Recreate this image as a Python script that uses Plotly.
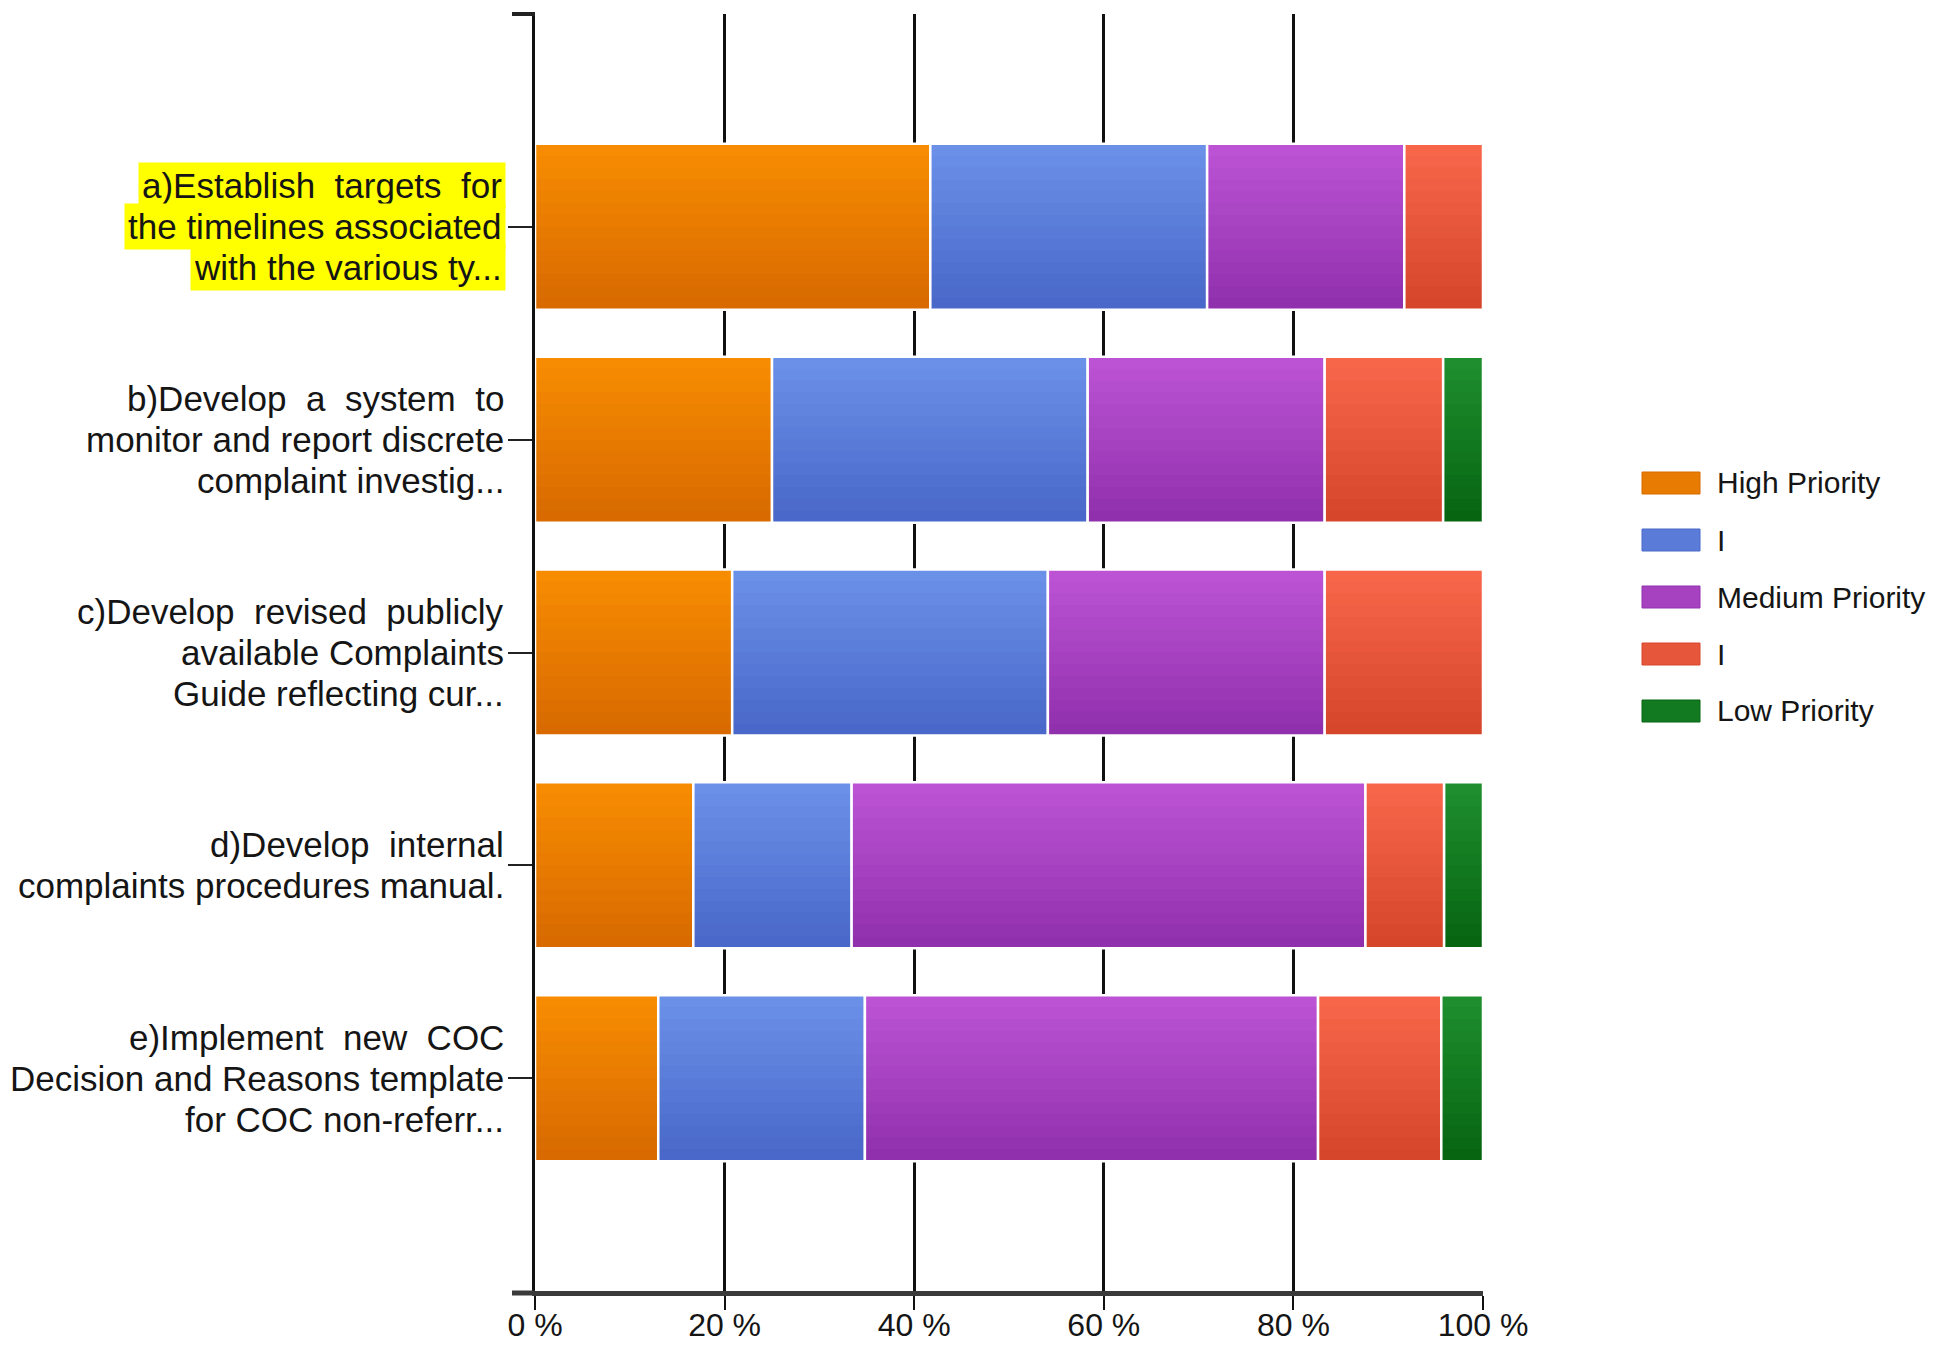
import numpy as np
import plotly.graph_objects as go

# ---- data -------------------------------------------------------------
categories = ["a", "b", "c", "d", "e"]

# wrapped, truncated category labels (one list of lines per category)
category_lines = [
    ["a)Establish\u00a0 targets\u00a0 for", "the timelines associated", "with the various ty..."],
    ["b)Develop\u00a0 a\u00a0 system\u00a0 to", "monitor and report discrete", "complaint investig..."],
    ["c)Develop\u00a0 revised\u00a0 publicly", "available Complaints", "Guide reflecting cur..."],
    ["d)Develop\u00a0 internal", "complaints procedures manual."],
    ["e)Implement\u00a0 new\u00a0 COC", "Decision and Reasons template", "for COC non-referr..."],
]
highlighted = ["a"]

series_names = ["High Priority", "I", "Medium Priority", "I", "Low Priority"]

# percentage of responses per category
high_priority = [41.7, 25.0, 20.8, 16.7, 13.0]
high_mid = [29.2, 33.3, 33.3, 16.7, 21.8]
medium_priority = [20.8, 25.0, 29.2, 54.2, 47.8]
medium_low = [8.3, 12.5, 16.7, 8.3, 13.0]
low_priority = [0.0, 4.2, 0.0, 4.1, 4.4]

series_values = [high_priority, high_mid, medium_priority, medium_low, low_priority]

tick_values = [0, 20, 40, 60, 80, 100]
tick_labels = ["0 %", "20 %", "40 %", "60 %", "80 %", "100 %"]

# ---- styling ----------------------------------------------------------
# (top colour, bottom colour) of each series' vertical gradient
series_colors = [
    ("#F78C02", "#D86A00"),
    ("#6B90E8", "#4968C9"),
    ("#BC53D4", "#9130AD"),
    ("#F8664A", "#D5462A"),
    ("#1E8E2E", "#076512"),
]

FONT = "Liberation Sans, Arial, sans-serif"
TEXT_COLOR = "#151515"
W, H = 1946, 1345
L, R, T, B = 535, 1483, 14, 1291   # plot area in pixels
BAR_W = 0.78
N_BANDS = 14
LINE_STEP = 41


def hex_to_rgb(h):
    h = h.lstrip("#")
    return np.array([int(h[i:i + 2], 16) for i in (0, 2, 4)], dtype=float)


def mix(c0, c1, t):
    c = hex_to_rgb(c0) * (1 - t) + hex_to_rgb(c1) * t
    return "rgb(%d,%d,%d)" % tuple(np.round(c).astype(int))


def px_x(x):
    return (x - L) / (R - L)


def px_y(y):
    return (B - y) / (B - T)


fig = go.Figure()

bases = np.zeros(len(categories))
band_w = BAR_W / N_BANDS
for name, vals, (c_top, c_bot) in zip(series_names, series_values, series_colors):
    vals = np.asarray(vals, dtype=float)
    shown = [v if v > 0 else None for v in vals]
    # gradient: each band runs from its start to the bar's bottom edge,
    # later (darker) bands painted over earlier ones, so no seams appear
    for k in range(N_BANDS):
        fig.add_trace(go.Bar(
            y=categories, x=shown, base=bases.copy(), orientation="h",
            width=BAR_W - k * band_w, offset=-BAR_W / 2 + k * band_w,
            marker=dict(color=mix(c_top, c_bot, k / (N_BANDS - 1)), line=dict(width=0)),
            name=name, showlegend=False, hoverinfo="skip",
        ))
    # white separators around each segment
    fig.add_trace(go.Bar(
        y=categories, x=shown, base=bases.copy(), orientation="h",
        width=BAR_W, offset=-BAR_W / 2,
        marker=dict(color="rgba(0,0,0,0)", line=dict(color="white", width=2.5)),
        name=name, showlegend=False,
        hovertemplate="%{x:.1f} %<extra>" + name + "</extra>",
    ))
    bases = bases + vals

# category labels, one annotation per line
for cat, lines in zip(categories, category_lines):
    n = len(lines)
    for i, line in enumerate(lines):
        ann = dict(
            x=0, xref="paper", y=cat, yref="y",
            xanchor="right", yanchor="middle", xshift=-29,
            yshift=-(i - (n - 1) / 2) * LINE_STEP,
            text=line, showarrow=False, align="right",
            font=dict(family=FONT, size=35, color=TEXT_COLOR),
        )
        if cat in highlighted:
            ann.update(bgcolor="#FFFF00", borderpad=3)
        fig.add_annotation(**ann)

# legend: wide swatches with labels
legend_y = [483, 540, 597, 654, 711]
for name, (c_top, c_bot), yc in zip(series_names, series_colors, legend_y):
    fig.add_shape(
        type="rect", xref="paper", yref="paper",
        x0=px_x(1642), x1=px_x(1700), y0=px_y(yc + 11), y1=px_y(yc - 11),
        fillcolor=mix(c_top, c_bot, 0.5), line=dict(color=c_bot, width=1),
    )
    fig.add_annotation(
        x=px_x(1715), xref="paper", y=px_y(yc), yref="paper",
        xanchor="left", yanchor="middle", text=name, showarrow=False,
        font=dict(family=FONT, size=30, color=TEXT_COLOR),
    )

# short marks extending the axes to the left at the top and bottom of the frame
fig.add_shape(type="line", xref="paper", yref="paper",
              x0=px_x(512), x1=px_x(535), y0=1, y1=1,
              line=dict(color="#222", width=4))
fig.add_shape(type="line", xref="paper", yref="paper",
              x0=px_x(512), x1=px_x(535), y0=px_y(1293), y1=px_y(1293),
              line=dict(color="#3a3a3a", width=5))

fig.update_layout(
    width=W, height=H,
    margin=dict(l=L, r=W - R, t=T, b=H - B, autoexpand=False),
    paper_bgcolor="white", plot_bgcolor="white",
    barmode="overlay", showlegend=False,
    font=dict(family=FONT, color=TEXT_COLOR),
)
fig.update_xaxes(
    range=[0, 100], tickvals=tick_values, ticktext=tick_labels,
    showgrid=True, gridcolor="#111", gridwidth=3,
    showline=True, linecolor="#3a3a3a", linewidth=5,
    ticks="outside", ticklen=14, tickwidth=2, tickcolor="#111",
    tickfont=dict(family=FONT, size=32, color=TEXT_COLOR),
    ticklabelstandoff=-12,
    zeroline=False, fixedrange=True, automargin=False,
)
fig.update_yaxes(
    type="category", categoryorder="array", categoryarray=categories,
    range=[len(categories), -1],
    showgrid=False, showticklabels=False,
    showline=True, linecolor="#111", linewidth=3,
    ticks="outside", ticklen=24, tickwidth=2, tickcolor="#222",
    zeroline=False, fixedrange=True, automargin=False,
)

fig.write_html("out.html")
